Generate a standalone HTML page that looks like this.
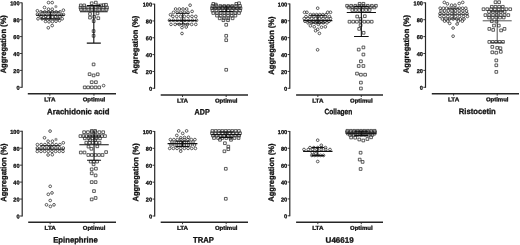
<!DOCTYPE html>
<html><head><meta charset="utf-8"><style>
html,body{margin:0;padding:0;background:#fff;}
body{width:520px;height:245px;overflow:hidden;}
svg{display:block;filter:grayscale(1) blur(0.3px);}
text{font-family:"Liberation Sans", sans-serif;font-weight:bold;fill:#111;stroke:#111;stroke-width:0.3px;text-rendering:geometricPrecision;}
.tl{font-size:5.6px;text-anchor:end;}
.yt{font-size:7.8px;text-anchor:middle;}
.xl{font-size:5.5px;text-anchor:middle;}
.ti{font-size:7.9px;text-anchor:middle;}
</style></head><body>
<svg width="520" height="245" viewBox="0 0 520 245">
<path d="M22.1 2.4V87.8" stroke="#262626" stroke-width="1.2" fill="none"/>
<text transform="translate(19.5 5.3) rotate(0.05)" class="tl">100</text>
<text transform="translate(19.5 22.2) rotate(0.05)" class="tl">80</text>
<text transform="translate(19.5 39.1) rotate(0.05)" class="tl">60</text>
<text transform="translate(19.5 56) rotate(0.05)" class="tl">40</text>
<text transform="translate(19.5 72.9) rotate(0.05)" class="tl">20</text>
<text transform="translate(19.5 89.8) rotate(0.05)" class="tl">0</text>
<path d="M19.9 2.8H22.1M19.9 19.7H22.1M19.9 36.6H22.1M19.9 53.5H22.1M19.9 70.4H22.1M19.9 87.3H22.1" stroke="#262626" stroke-width="0.9" fill="none"/>
<text transform="translate(6 44.25) rotate(-89.95)" class="yt" textLength="58.2" lengthAdjust="spacingAndGlyphs">Aggregation (%)</text>
<path d="M27.8 93.7H116" stroke="#262626" stroke-width="1.4" fill="none"/>
<path d="M49.85 93.7v2M93.95 93.7v2" stroke="#262626" stroke-width="0.9" fill="none"/>
<text transform="translate(49.85 101.2) rotate(0.05)" class="xl" textLength="11.2" lengthAdjust="spacingAndGlyphs">LTA</text>
<text transform="translate(93.95 101.2) rotate(0.05)" class="xl" textLength="22.6" lengthAdjust="spacingAndGlyphs">Optimul</text>
<text transform="translate(78.3 114.3) rotate(0.05)" class="ti" textLength="62.4" lengthAdjust="spacingAndGlyphs">Arachidonic acid</text>
<path d="M154.6 3.7V88.8" stroke="#262626" stroke-width="1.2" fill="none"/>
<text transform="translate(152 6.6) rotate(0.05)" class="tl">100</text>
<text transform="translate(152 23.44) rotate(0.05)" class="tl">80</text>
<text transform="translate(152 40.28) rotate(0.05)" class="tl">60</text>
<text transform="translate(152 57.12) rotate(0.05)" class="tl">40</text>
<text transform="translate(152 73.96) rotate(0.05)" class="tl">20</text>
<text transform="translate(152 90.8) rotate(0.05)" class="tl">0</text>
<path d="M152.4 4.1H154.6M152.4 20.94H154.6M152.4 37.78H154.6M152.4 54.62H154.6M152.4 71.46H154.6M152.4 88.3H154.6" stroke="#262626" stroke-width="0.9" fill="none"/>
<text transform="translate(137.65 44.85) rotate(-89.95)" class="yt" textLength="58.2" lengthAdjust="spacingAndGlyphs">Aggregation (%)</text>
<path d="M160.7 95H248" stroke="#262626" stroke-width="1.4" fill="none"/>
<path d="M182.52 95v2M226.18 95v2" stroke="#262626" stroke-width="0.9" fill="none"/>
<text transform="translate(182.52 102.5) rotate(0.05)" class="xl" textLength="11.2" lengthAdjust="spacingAndGlyphs">LTA</text>
<text transform="translate(226.18 102.5) rotate(0.05)" class="xl" textLength="22.6" lengthAdjust="spacingAndGlyphs">Optimul</text>
<text transform="translate(202.15 114.5) rotate(0.05)" class="ti" textLength="15.1" lengthAdjust="spacingAndGlyphs">ADP</text>
<path d="M289.8 3.5V88.8" stroke="#262626" stroke-width="1.2" fill="none"/>
<text transform="translate(287.2 6.4) rotate(0.05)" class="tl">100</text>
<text transform="translate(287.2 23.28) rotate(0.05)" class="tl">80</text>
<text transform="translate(287.2 40.16) rotate(0.05)" class="tl">60</text>
<text transform="translate(287.2 57.04) rotate(0.05)" class="tl">40</text>
<text transform="translate(287.2 73.92) rotate(0.05)" class="tl">20</text>
<text transform="translate(287.2 90.8) rotate(0.05)" class="tl">0</text>
<path d="M287.6 3.9H289.8M287.6 20.78H289.8M287.6 37.66H289.8M287.6 54.54H289.8M287.6 71.42H289.8M287.6 88.3H289.8" stroke="#262626" stroke-width="0.9" fill="none"/>
<text transform="translate(274.1 45.55) rotate(-89.95)" class="yt" textLength="58.2" lengthAdjust="spacingAndGlyphs">Aggregation (%)</text>
<path d="M296.1 95H383" stroke="#262626" stroke-width="1.4" fill="none"/>
<path d="M317.83 95v2M361.27 95v2" stroke="#262626" stroke-width="0.9" fill="none"/>
<text transform="translate(317.83 102.5) rotate(0.05)" class="xl" textLength="11.2" lengthAdjust="spacingAndGlyphs">LTA</text>
<text transform="translate(361.27 102.5) rotate(0.05)" class="xl" textLength="22.6" lengthAdjust="spacingAndGlyphs">Optimul</text>
<text transform="translate(338.35 114.3) rotate(0.05)" class="ti" textLength="27.9" lengthAdjust="spacingAndGlyphs">Collagen</text>
<path d="M425.5 2.4V87.8" stroke="#262626" stroke-width="1.2" fill="none"/>
<text transform="translate(422.9 5.3) rotate(0.05)" class="tl">100</text>
<text transform="translate(422.9 22.2) rotate(0.05)" class="tl">80</text>
<text transform="translate(422.9 39.1) rotate(0.05)" class="tl">60</text>
<text transform="translate(422.9 56) rotate(0.05)" class="tl">40</text>
<text transform="translate(422.9 72.9) rotate(0.05)" class="tl">20</text>
<text transform="translate(422.9 89.8) rotate(0.05)" class="tl">0</text>
<path d="M423.3 2.8H425.5M423.3 19.7H425.5M423.3 36.6H425.5M423.3 53.5H425.5M423.3 70.4H425.5M423.3 87.3H425.5" stroke="#262626" stroke-width="0.9" fill="none"/>
<text transform="translate(408.9 44.05) rotate(-89.95)" class="yt" textLength="58.2" lengthAdjust="spacingAndGlyphs">Aggregation (%)</text>
<path d="M431.8 93.7H519" stroke="#262626" stroke-width="1.4" fill="none"/>
<path d="M453.6 93.7v2M497.2 93.7v2" stroke="#262626" stroke-width="0.9" fill="none"/>
<text transform="translate(453.6 101.2) rotate(0.05)" class="xl" textLength="11.2" lengthAdjust="spacingAndGlyphs">LTA</text>
<text transform="translate(497.2 101.2) rotate(0.05)" class="xl" textLength="22.6" lengthAdjust="spacingAndGlyphs">Optimul</text>
<text transform="translate(477.25 114.1) rotate(0.05)" class="ti" textLength="37.1" lengthAdjust="spacingAndGlyphs">Ristocetin</text>
<path d="M22.2 130.85V216.5" stroke="#262626" stroke-width="1.2" fill="none"/>
<text transform="translate(19.6 133.75) rotate(0.05)" class="tl">100</text>
<text transform="translate(19.6 150.7) rotate(0.05)" class="tl">80</text>
<text transform="translate(19.6 167.65) rotate(0.05)" class="tl">60</text>
<text transform="translate(19.6 184.6) rotate(0.05)" class="tl">40</text>
<text transform="translate(19.6 201.55) rotate(0.05)" class="tl">20</text>
<text transform="translate(19.6 218.5) rotate(0.05)" class="tl">0</text>
<path d="M20 131.25H22.2M20 148.2H22.2M20 165.15H22.2M20 182.1H22.2M20 199.05H22.2M20 216H22.2" stroke="#262626" stroke-width="0.9" fill="none"/>
<text transform="translate(6.2 172.65) rotate(-89.95)" class="yt" textLength="58.2" lengthAdjust="spacingAndGlyphs">Aggregation (%)</text>
<path d="M28.2 222.2H116" stroke="#262626" stroke-width="1.4" fill="none"/>
<path d="M50.15 222.2v2M94.05 222.2v2" stroke="#262626" stroke-width="0.9" fill="none"/>
<text transform="translate(50.15 229.7) rotate(0.05)" class="xl" textLength="11.2" lengthAdjust="spacingAndGlyphs">LTA</text>
<text transform="translate(94.05 229.7) rotate(0.05)" class="xl" textLength="22.6" lengthAdjust="spacingAndGlyphs">Optimul</text>
<text transform="translate(75.45 242.5) rotate(0.05)" class="ti" textLength="44.5" lengthAdjust="spacingAndGlyphs">Epinephrine</text>
<path d="M154.7 131V216.5" stroke="#262626" stroke-width="1.2" fill="none"/>
<text transform="translate(152.1 133.9) rotate(0.05)" class="tl">100</text>
<text transform="translate(152.1 150.82) rotate(0.05)" class="tl">80</text>
<text transform="translate(152.1 167.74) rotate(0.05)" class="tl">60</text>
<text transform="translate(152.1 184.66) rotate(0.05)" class="tl">40</text>
<text transform="translate(152.1 201.58) rotate(0.05)" class="tl">20</text>
<text transform="translate(152.1 218.5) rotate(0.05)" class="tl">0</text>
<path d="M152.5 131.4H154.7M152.5 148.32H154.7M152.5 165.24H154.7M152.5 182.16H154.7M152.5 199.08H154.7M152.5 216H154.7" stroke="#262626" stroke-width="0.9" fill="none"/>
<text transform="translate(138.25 172.45) rotate(-89.95)" class="yt" textLength="58.2" lengthAdjust="spacingAndGlyphs">Aggregation (%)</text>
<path d="M160.7 222.2H248" stroke="#262626" stroke-width="1.4" fill="none"/>
<path d="M182.52 222.2v2M226.18 222.2v2" stroke="#262626" stroke-width="0.9" fill="none"/>
<text transform="translate(182.52 229.7) rotate(0.05)" class="xl" textLength="11.2" lengthAdjust="spacingAndGlyphs">LTA</text>
<text transform="translate(226.18 229.7) rotate(0.05)" class="xl" textLength="22.6" lengthAdjust="spacingAndGlyphs">Optimul</text>
<text transform="translate(203.5 242.6) rotate(0.05)" class="ti" textLength="20.8" lengthAdjust="spacingAndGlyphs">TRAP</text>
<path d="M289.8 131V216.3" stroke="#262626" stroke-width="1.2" fill="none"/>
<text transform="translate(287.2 133.9) rotate(0.05)" class="tl">100</text>
<text transform="translate(287.2 150.78) rotate(0.05)" class="tl">80</text>
<text transform="translate(287.2 167.66) rotate(0.05)" class="tl">60</text>
<text transform="translate(287.2 184.54) rotate(0.05)" class="tl">40</text>
<text transform="translate(287.2 201.42) rotate(0.05)" class="tl">20</text>
<text transform="translate(287.2 218.3) rotate(0.05)" class="tl">0</text>
<path d="M287.6 131.4H289.8M287.6 148.28H289.8M287.6 165.16H289.8M287.6 182.04H289.8M287.6 198.92H289.8M287.6 215.8H289.8" stroke="#262626" stroke-width="0.9" fill="none"/>
<text transform="translate(273.9 172.65) rotate(-89.95)" class="yt" textLength="58.2" lengthAdjust="spacingAndGlyphs">Aggregation (%)</text>
<path d="M296.1 222.2H383" stroke="#262626" stroke-width="1.4" fill="none"/>
<path d="M317.83 222.2v2M361.27 222.2v2" stroke="#262626" stroke-width="0.9" fill="none"/>
<text transform="translate(317.83 229.7) rotate(0.05)" class="xl" textLength="11.2" lengthAdjust="spacingAndGlyphs">LTA</text>
<text transform="translate(361.27 229.7) rotate(0.05)" class="xl" textLength="22.6" lengthAdjust="spacingAndGlyphs">Optimul</text>
<text transform="translate(339.65 242.7) rotate(0.05)" class="ti" textLength="28.1" lengthAdjust="spacingAndGlyphs">U46619</text>
<path d="M54.3 6.6a1.6 1.6 0 1 0 3.2 0a1.6 1.6 0 1 0 -3.2 0M54.4 139.4a1.6 1.6 0 1 0 3.2 0a1.6 1.6 0 1 0 -3.2 0" fill="#9a9a9a"/>
<path d="M47.15 2.6a1.35 1.35 0 1 0 2.7 0a1.35 1.35 0 1 0 -2.7 0M50.85 2.6a1.35 1.35 0 1 0 2.7 0a1.35 1.35 0 1 0 -2.7 0M43.15 7.5a1.35 1.35 0 1 0 2.7 0a1.35 1.35 0 1 0 -2.7 0M47.15 9.2a1.35 1.35 0 1 0 2.7 0a1.35 1.35 0 1 0 -2.7 0M50.85 9.2a1.35 1.35 0 1 0 2.7 0a1.35 1.35 0 1 0 -2.7 0M36.05 10.8a1.35 1.35 0 1 0 2.7 0a1.35 1.35 0 1 0 -2.7 0M62.05 10.2a1.35 1.35 0 1 0 2.7 0a1.35 1.35 0 1 0 -2.7 0M62.05 14.5a1.35 1.35 0 1 0 2.7 0a1.35 1.35 0 1 0 -2.7 0M36.05 14.3a1.35 1.35 0 1 0 2.7 0a1.35 1.35 0 1 0 -2.7 0M50.85 25.6a1.35 1.35 0 1 0 2.7 0a1.35 1.35 0 1 0 -2.7 0M46.95 27.8a1.35 1.35 0 1 0 2.7 0a1.35 1.35 0 1 0 -2.7 0M44.15 21.4a1.35 1.35 0 1 0 2.7 0a1.35 1.35 0 1 0 -2.7 0M47.65 21.8a1.35 1.35 0 1 0 2.7 0a1.35 1.35 0 1 0 -2.7 0M51.15 21.6a1.35 1.35 0 1 0 2.7 0a1.35 1.35 0 1 0 -2.7 0M54.65 21.2a1.35 1.35 0 1 0 2.7 0a1.35 1.35 0 1 0 -2.7 0M58.15 20.6a1.35 1.35 0 1 0 2.7 0a1.35 1.35 0 1 0 -2.7 0M39.65 11.9a1.35 1.35 0 1 0 2.7 0a1.35 1.35 0 1 0 -2.7 0M43.45 11.9a1.35 1.35 0 1 0 2.7 0a1.35 1.35 0 1 0 -2.7 0M47.25 11.9a1.35 1.35 0 1 0 2.7 0a1.35 1.35 0 1 0 -2.7 0M51.05 11.9a1.35 1.35 0 1 0 2.7 0a1.35 1.35 0 1 0 -2.7 0M54.85 11.9a1.35 1.35 0 1 0 2.7 0a1.35 1.35 0 1 0 -2.7 0M58.65 11.9a1.35 1.35 0 1 0 2.7 0a1.35 1.35 0 1 0 -2.7 0M38.15 15a1.35 1.35 0 1 0 2.7 0a1.35 1.35 0 1 0 -2.7 0M41.82 15a1.35 1.35 0 1 0 2.7 0a1.35 1.35 0 1 0 -2.7 0M45.48 15a1.35 1.35 0 1 0 2.7 0a1.35 1.35 0 1 0 -2.7 0M49.15 15a1.35 1.35 0 1 0 2.7 0a1.35 1.35 0 1 0 -2.7 0M52.82 15a1.35 1.35 0 1 0 2.7 0a1.35 1.35 0 1 0 -2.7 0M56.48 15a1.35 1.35 0 1 0 2.7 0a1.35 1.35 0 1 0 -2.7 0M60.15 15a1.35 1.35 0 1 0 2.7 0a1.35 1.35 0 1 0 -2.7 0M39.65 16.8a1.35 1.35 0 1 0 2.7 0a1.35 1.35 0 1 0 -2.7 0M44.4 16.8a1.35 1.35 0 1 0 2.7 0a1.35 1.35 0 1 0 -2.7 0M49.15 16.8a1.35 1.35 0 1 0 2.7 0a1.35 1.35 0 1 0 -2.7 0M53.9 16.8a1.35 1.35 0 1 0 2.7 0a1.35 1.35 0 1 0 -2.7 0M58.65 16.8a1.35 1.35 0 1 0 2.7 0a1.35 1.35 0 1 0 -2.7 0M36.65 18.8a1.35 1.35 0 1 0 2.7 0a1.35 1.35 0 1 0 -2.7 0M40.68 18.8a1.35 1.35 0 1 0 2.7 0a1.35 1.35 0 1 0 -2.7 0M44.72 18.8a1.35 1.35 0 1 0 2.7 0a1.35 1.35 0 1 0 -2.7 0M48.75 18.8a1.35 1.35 0 1 0 2.7 0a1.35 1.35 0 1 0 -2.7 0M52.78 18.8a1.35 1.35 0 1 0 2.7 0a1.35 1.35 0 1 0 -2.7 0M56.82 18.8a1.35 1.35 0 1 0 2.7 0a1.35 1.35 0 1 0 -2.7 0M60.85 18.8a1.35 1.35 0 1 0 2.7 0a1.35 1.35 0 1 0 -2.7 0M188.75 5.2a1.35 1.35 0 1 0 2.7 0a1.35 1.35 0 1 0 -2.7 0M190.75 11.4a1.35 1.35 0 1 0 2.7 0a1.35 1.35 0 1 0 -2.7 0M169.15 14.7a1.35 1.35 0 1 0 2.7 0a1.35 1.35 0 1 0 -2.7 0M184.85 27a1.35 1.35 0 1 0 2.7 0a1.35 1.35 0 1 0 -2.7 0M180.65 27.6a1.35 1.35 0 1 0 2.7 0a1.35 1.35 0 1 0 -2.7 0M180.65 33.5a1.35 1.35 0 1 0 2.7 0a1.35 1.35 0 1 0 -2.7 0M174.25 9a1.35 1.35 0 1 0 2.7 0a1.35 1.35 0 1 0 -2.7 0M177.95 9a1.35 1.35 0 1 0 2.7 0a1.35 1.35 0 1 0 -2.7 0M181.65 9a1.35 1.35 0 1 0 2.7 0a1.35 1.35 0 1 0 -2.7 0M185.35 9a1.35 1.35 0 1 0 2.7 0a1.35 1.35 0 1 0 -2.7 0M172.15 12.4a1.35 1.35 0 1 0 2.7 0a1.35 1.35 0 1 0 -2.7 0M175.78 12.4a1.35 1.35 0 1 0 2.7 0a1.35 1.35 0 1 0 -2.7 0M179.4 12.4a1.35 1.35 0 1 0 2.7 0a1.35 1.35 0 1 0 -2.7 0M183.03 12.4a1.35 1.35 0 1 0 2.7 0a1.35 1.35 0 1 0 -2.7 0M186.65 12.4a1.35 1.35 0 1 0 2.7 0a1.35 1.35 0 1 0 -2.7 0M171.55 16.4a1.35 1.35 0 1 0 2.7 0a1.35 1.35 0 1 0 -2.7 0M175.37 16.4a1.35 1.35 0 1 0 2.7 0a1.35 1.35 0 1 0 -2.7 0M179.18 16.4a1.35 1.35 0 1 0 2.7 0a1.35 1.35 0 1 0 -2.7 0M183 16.4a1.35 1.35 0 1 0 2.7 0a1.35 1.35 0 1 0 -2.7 0M186.82 16.4a1.35 1.35 0 1 0 2.7 0a1.35 1.35 0 1 0 -2.7 0M190.63 16.4a1.35 1.35 0 1 0 2.7 0a1.35 1.35 0 1 0 -2.7 0M194.45 16.4a1.35 1.35 0 1 0 2.7 0a1.35 1.35 0 1 0 -2.7 0M168.15 20.3a1.35 1.35 0 1 0 2.7 0a1.35 1.35 0 1 0 -2.7 0M172.01 20.3a1.35 1.35 0 1 0 2.7 0a1.35 1.35 0 1 0 -2.7 0M175.86 20.3a1.35 1.35 0 1 0 2.7 0a1.35 1.35 0 1 0 -2.7 0M179.72 20.3a1.35 1.35 0 1 0 2.7 0a1.35 1.35 0 1 0 -2.7 0M183.58 20.3a1.35 1.35 0 1 0 2.7 0a1.35 1.35 0 1 0 -2.7 0M187.44 20.3a1.35 1.35 0 1 0 2.7 0a1.35 1.35 0 1 0 -2.7 0M191.29 20.3a1.35 1.35 0 1 0 2.7 0a1.35 1.35 0 1 0 -2.7 0M195.15 20.3a1.35 1.35 0 1 0 2.7 0a1.35 1.35 0 1 0 -2.7 0M169.65 24.4a1.35 1.35 0 1 0 2.7 0a1.35 1.35 0 1 0 -2.7 0M173.78 24.4a1.35 1.35 0 1 0 2.7 0a1.35 1.35 0 1 0 -2.7 0M177.92 24.4a1.35 1.35 0 1 0 2.7 0a1.35 1.35 0 1 0 -2.7 0M182.05 24.4a1.35 1.35 0 1 0 2.7 0a1.35 1.35 0 1 0 -2.7 0M186.18 24.4a1.35 1.35 0 1 0 2.7 0a1.35 1.35 0 1 0 -2.7 0M190.32 24.4a1.35 1.35 0 1 0 2.7 0a1.35 1.35 0 1 0 -2.7 0M194.45 24.4a1.35 1.35 0 1 0 2.7 0a1.35 1.35 0 1 0 -2.7 0M316.35 8.2a1.35 1.35 0 1 0 2.7 0a1.35 1.35 0 1 0 -2.7 0M303.15 12.3a1.35 1.35 0 1 0 2.7 0a1.35 1.35 0 1 0 -2.7 0M305.55 12.3a1.35 1.35 0 1 0 2.7 0a1.35 1.35 0 1 0 -2.7 0M326.35 12.3a1.35 1.35 0 1 0 2.7 0a1.35 1.35 0 1 0 -2.7 0M329.15 12.3a1.35 1.35 0 1 0 2.7 0a1.35 1.35 0 1 0 -2.7 0M317.05 24.4a1.35 1.35 0 1 0 2.7 0a1.35 1.35 0 1 0 -2.7 0M309.05 25.8a1.35 1.35 0 1 0 2.7 0a1.35 1.35 0 1 0 -2.7 0M312.85 26.8a1.35 1.35 0 1 0 2.7 0a1.35 1.35 0 1 0 -2.7 0M320.15 27.2a1.35 1.35 0 1 0 2.7 0a1.35 1.35 0 1 0 -2.7 0M323.95 26.8a1.35 1.35 0 1 0 2.7 0a1.35 1.35 0 1 0 -2.7 0M316.35 29.3a1.35 1.35 0 1 0 2.7 0a1.35 1.35 0 1 0 -2.7 0M314.25 30.7a1.35 1.35 0 1 0 2.7 0a1.35 1.35 0 1 0 -2.7 0M318.05 33.4a1.35 1.35 0 1 0 2.7 0a1.35 1.35 0 1 0 -2.7 0M316.25 49.8a1.35 1.35 0 1 0 2.7 0a1.35 1.35 0 1 0 -2.7 0M309.05 14.6a1.35 1.35 0 1 0 2.7 0a1.35 1.35 0 1 0 -2.7 0M312.17 14.6a1.35 1.35 0 1 0 2.7 0a1.35 1.35 0 1 0 -2.7 0M315.29 14.6a1.35 1.35 0 1 0 2.7 0a1.35 1.35 0 1 0 -2.7 0M318.41 14.6a1.35 1.35 0 1 0 2.7 0a1.35 1.35 0 1 0 -2.7 0M321.53 14.6a1.35 1.35 0 1 0 2.7 0a1.35 1.35 0 1 0 -2.7 0M324.65 14.6a1.35 1.35 0 1 0 2.7 0a1.35 1.35 0 1 0 -2.7 0M304.65 16.6a1.35 1.35 0 1 0 2.7 0a1.35 1.35 0 1 0 -2.7 0M308.57 16.6a1.35 1.35 0 1 0 2.7 0a1.35 1.35 0 1 0 -2.7 0M312.48 16.6a1.35 1.35 0 1 0 2.7 0a1.35 1.35 0 1 0 -2.7 0M316.4 16.6a1.35 1.35 0 1 0 2.7 0a1.35 1.35 0 1 0 -2.7 0M320.32 16.6a1.35 1.35 0 1 0 2.7 0a1.35 1.35 0 1 0 -2.7 0M324.23 16.6a1.35 1.35 0 1 0 2.7 0a1.35 1.35 0 1 0 -2.7 0M328.15 16.6a1.35 1.35 0 1 0 2.7 0a1.35 1.35 0 1 0 -2.7 0M302.85 18.5a1.35 1.35 0 1 0 2.7 0a1.35 1.35 0 1 0 -2.7 0M306.61 18.5a1.35 1.35 0 1 0 2.7 0a1.35 1.35 0 1 0 -2.7 0M310.36 18.5a1.35 1.35 0 1 0 2.7 0a1.35 1.35 0 1 0 -2.7 0M314.12 18.5a1.35 1.35 0 1 0 2.7 0a1.35 1.35 0 1 0 -2.7 0M317.88 18.5a1.35 1.35 0 1 0 2.7 0a1.35 1.35 0 1 0 -2.7 0M321.64 18.5a1.35 1.35 0 1 0 2.7 0a1.35 1.35 0 1 0 -2.7 0M325.39 18.5a1.35 1.35 0 1 0 2.7 0a1.35 1.35 0 1 0 -2.7 0M329.15 18.5a1.35 1.35 0 1 0 2.7 0a1.35 1.35 0 1 0 -2.7 0M303.65 21.3a1.35 1.35 0 1 0 2.7 0a1.35 1.35 0 1 0 -2.7 0M307.65 21.3a1.35 1.35 0 1 0 2.7 0a1.35 1.35 0 1 0 -2.7 0M311.65 21.3a1.35 1.35 0 1 0 2.7 0a1.35 1.35 0 1 0 -2.7 0M315.65 21.3a1.35 1.35 0 1 0 2.7 0a1.35 1.35 0 1 0 -2.7 0M319.65 21.3a1.35 1.35 0 1 0 2.7 0a1.35 1.35 0 1 0 -2.7 0M323.65 21.3a1.35 1.35 0 1 0 2.7 0a1.35 1.35 0 1 0 -2.7 0M327.65 21.3a1.35 1.35 0 1 0 2.7 0a1.35 1.35 0 1 0 -2.7 0M306.65 22.8a1.35 1.35 0 1 0 2.7 0a1.35 1.35 0 1 0 -2.7 0M310.45 22.8a1.35 1.35 0 1 0 2.7 0a1.35 1.35 0 1 0 -2.7 0M314.25 22.8a1.35 1.35 0 1 0 2.7 0a1.35 1.35 0 1 0 -2.7 0M318.05 22.8a1.35 1.35 0 1 0 2.7 0a1.35 1.35 0 1 0 -2.7 0M321.85 22.8a1.35 1.35 0 1 0 2.7 0a1.35 1.35 0 1 0 -2.7 0M325.65 22.8a1.35 1.35 0 1 0 2.7 0a1.35 1.35 0 1 0 -2.7 0M442.95 2.4a1.35 1.35 0 1 0 2.7 0a1.35 1.35 0 1 0 -2.7 0M446.05 3.8a1.35 1.35 0 1 0 2.7 0a1.35 1.35 0 1 0 -2.7 0M457.85 3.5a1.35 1.35 0 1 0 2.7 0a1.35 1.35 0 1 0 -2.7 0M461.35 2.4a1.35 1.35 0 1 0 2.7 0a1.35 1.35 0 1 0 -2.7 0M450.25 5.2a1.35 1.35 0 1 0 2.7 0a1.35 1.35 0 1 0 -2.7 0M453.65 5.2a1.35 1.35 0 1 0 2.7 0a1.35 1.35 0 1 0 -2.7 0M443.25 21.1a1.35 1.35 0 1 0 2.7 0a1.35 1.35 0 1 0 -2.7 0M446.45 21.1a1.35 1.35 0 1 0 2.7 0a1.35 1.35 0 1 0 -2.7 0M456.95 21.1a1.35 1.35 0 1 0 2.7 0a1.35 1.35 0 1 0 -2.7 0M460.95 21.1a1.35 1.35 0 1 0 2.7 0a1.35 1.35 0 1 0 -2.7 0M448.35 23.4a1.35 1.35 0 1 0 2.7 0a1.35 1.35 0 1 0 -2.7 0M455.75 24a1.35 1.35 0 1 0 2.7 0a1.35 1.35 0 1 0 -2.7 0M451.75 28a1.35 1.35 0 1 0 2.7 0a1.35 1.35 0 1 0 -2.7 0M451.75 36.2a1.35 1.35 0 1 0 2.7 0a1.35 1.35 0 1 0 -2.7 0M438.85 8.2a1.35 1.35 0 1 0 2.7 0a1.35 1.35 0 1 0 -2.7 0M442.05 8.2a1.35 1.35 0 1 0 2.7 0a1.35 1.35 0 1 0 -2.7 0M445.25 8.2a1.35 1.35 0 1 0 2.7 0a1.35 1.35 0 1 0 -2.7 0M448.45 8.2a1.35 1.35 0 1 0 2.7 0a1.35 1.35 0 1 0 -2.7 0M451.65 8.2a1.35 1.35 0 1 0 2.7 0a1.35 1.35 0 1 0 -2.7 0M454.85 8.2a1.35 1.35 0 1 0 2.7 0a1.35 1.35 0 1 0 -2.7 0M458.05 8.2a1.35 1.35 0 1 0 2.7 0a1.35 1.35 0 1 0 -2.7 0M461.25 8.2a1.35 1.35 0 1 0 2.7 0a1.35 1.35 0 1 0 -2.7 0M464.45 8.2a1.35 1.35 0 1 0 2.7 0a1.35 1.35 0 1 0 -2.7 0M439.65 10.9a1.35 1.35 0 1 0 2.7 0a1.35 1.35 0 1 0 -2.7 0M443.29 10.9a1.35 1.35 0 1 0 2.7 0a1.35 1.35 0 1 0 -2.7 0M446.94 10.9a1.35 1.35 0 1 0 2.7 0a1.35 1.35 0 1 0 -2.7 0M450.58 10.9a1.35 1.35 0 1 0 2.7 0a1.35 1.35 0 1 0 -2.7 0M454.22 10.9a1.35 1.35 0 1 0 2.7 0a1.35 1.35 0 1 0 -2.7 0M457.86 10.9a1.35 1.35 0 1 0 2.7 0a1.35 1.35 0 1 0 -2.7 0M461.51 10.9a1.35 1.35 0 1 0 2.7 0a1.35 1.35 0 1 0 -2.7 0M465.15 10.9a1.35 1.35 0 1 0 2.7 0a1.35 1.35 0 1 0 -2.7 0M438.65 13.6a1.35 1.35 0 1 0 2.7 0a1.35 1.35 0 1 0 -2.7 0M442.51 13.6a1.35 1.35 0 1 0 2.7 0a1.35 1.35 0 1 0 -2.7 0M446.36 13.6a1.35 1.35 0 1 0 2.7 0a1.35 1.35 0 1 0 -2.7 0M450.22 13.6a1.35 1.35 0 1 0 2.7 0a1.35 1.35 0 1 0 -2.7 0M454.08 13.6a1.35 1.35 0 1 0 2.7 0a1.35 1.35 0 1 0 -2.7 0M457.94 13.6a1.35 1.35 0 1 0 2.7 0a1.35 1.35 0 1 0 -2.7 0M461.79 13.6a1.35 1.35 0 1 0 2.7 0a1.35 1.35 0 1 0 -2.7 0M465.65 13.6a1.35 1.35 0 1 0 2.7 0a1.35 1.35 0 1 0 -2.7 0M438.65 16.4a1.35 1.35 0 1 0 2.7 0a1.35 1.35 0 1 0 -2.7 0M442.56 16.4a1.35 1.35 0 1 0 2.7 0a1.35 1.35 0 1 0 -2.7 0M446.48 16.4a1.35 1.35 0 1 0 2.7 0a1.35 1.35 0 1 0 -2.7 0M450.39 16.4a1.35 1.35 0 1 0 2.7 0a1.35 1.35 0 1 0 -2.7 0M454.31 16.4a1.35 1.35 0 1 0 2.7 0a1.35 1.35 0 1 0 -2.7 0M458.22 16.4a1.35 1.35 0 1 0 2.7 0a1.35 1.35 0 1 0 -2.7 0M462.14 16.4a1.35 1.35 0 1 0 2.7 0a1.35 1.35 0 1 0 -2.7 0M466.05 16.4a1.35 1.35 0 1 0 2.7 0a1.35 1.35 0 1 0 -2.7 0M440.95 19a1.35 1.35 0 1 0 2.7 0a1.35 1.35 0 1 0 -2.7 0M444.57 19a1.35 1.35 0 1 0 2.7 0a1.35 1.35 0 1 0 -2.7 0M448.18 19a1.35 1.35 0 1 0 2.7 0a1.35 1.35 0 1 0 -2.7 0M451.8 19a1.35 1.35 0 1 0 2.7 0a1.35 1.35 0 1 0 -2.7 0M455.42 19a1.35 1.35 0 1 0 2.7 0a1.35 1.35 0 1 0 -2.7 0M459.03 19a1.35 1.35 0 1 0 2.7 0a1.35 1.35 0 1 0 -2.7 0M462.65 19a1.35 1.35 0 1 0 2.7 0a1.35 1.35 0 1 0 -2.7 0M48.75 131.1a1.35 1.35 0 1 0 2.7 0a1.35 1.35 0 1 0 -2.7 0M43.15 137.8a1.35 1.35 0 1 0 2.7 0a1.35 1.35 0 1 0 -2.7 0M46.75 141.2a1.35 1.35 0 1 0 2.7 0a1.35 1.35 0 1 0 -2.7 0M51.05 141.2a1.35 1.35 0 1 0 2.7 0a1.35 1.35 0 1 0 -2.7 0M61.95 142.8a1.35 1.35 0 1 0 2.7 0a1.35 1.35 0 1 0 -2.7 0M46.75 155a1.35 1.35 0 1 0 2.7 0a1.35 1.35 0 1 0 -2.7 0M50.95 154.7a1.35 1.35 0 1 0 2.7 0a1.35 1.35 0 1 0 -2.7 0M48.85 186.3a1.35 1.35 0 1 0 2.7 0a1.35 1.35 0 1 0 -2.7 0M46.95 194.3a1.35 1.35 0 1 0 2.7 0a1.35 1.35 0 1 0 -2.7 0M50.65 192.9a1.35 1.35 0 1 0 2.7 0a1.35 1.35 0 1 0 -2.7 0M48.85 200.5a1.35 1.35 0 1 0 2.7 0a1.35 1.35 0 1 0 -2.7 0M45.15 204.8a1.35 1.35 0 1 0 2.7 0a1.35 1.35 0 1 0 -2.7 0M49.05 206.4a1.35 1.35 0 1 0 2.7 0a1.35 1.35 0 1 0 -2.7 0M52.65 204.8a1.35 1.35 0 1 0 2.7 0a1.35 1.35 0 1 0 -2.7 0M36.05 144.6a1.35 1.35 0 1 0 2.7 0a1.35 1.35 0 1 0 -2.7 0M39.8 144.6a1.35 1.35 0 1 0 2.7 0a1.35 1.35 0 1 0 -2.7 0M43.55 144.6a1.35 1.35 0 1 0 2.7 0a1.35 1.35 0 1 0 -2.7 0M47.3 144.6a1.35 1.35 0 1 0 2.7 0a1.35 1.35 0 1 0 -2.7 0M51.05 144.6a1.35 1.35 0 1 0 2.7 0a1.35 1.35 0 1 0 -2.7 0M54.8 144.6a1.35 1.35 0 1 0 2.7 0a1.35 1.35 0 1 0 -2.7 0M58.55 144.6a1.35 1.35 0 1 0 2.7 0a1.35 1.35 0 1 0 -2.7 0M35.95 148a1.35 1.35 0 1 0 2.7 0a1.35 1.35 0 1 0 -2.7 0M39.66 148a1.35 1.35 0 1 0 2.7 0a1.35 1.35 0 1 0 -2.7 0M43.38 148a1.35 1.35 0 1 0 2.7 0a1.35 1.35 0 1 0 -2.7 0M47.09 148a1.35 1.35 0 1 0 2.7 0a1.35 1.35 0 1 0 -2.7 0M50.81 148a1.35 1.35 0 1 0 2.7 0a1.35 1.35 0 1 0 -2.7 0M54.52 148a1.35 1.35 0 1 0 2.7 0a1.35 1.35 0 1 0 -2.7 0M58.24 148a1.35 1.35 0 1 0 2.7 0a1.35 1.35 0 1 0 -2.7 0M61.95 148a1.35 1.35 0 1 0 2.7 0a1.35 1.35 0 1 0 -2.7 0M35.95 151.4a1.35 1.35 0 1 0 2.7 0a1.35 1.35 0 1 0 -2.7 0M39.62 151.4a1.35 1.35 0 1 0 2.7 0a1.35 1.35 0 1 0 -2.7 0M43.29 151.4a1.35 1.35 0 1 0 2.7 0a1.35 1.35 0 1 0 -2.7 0M46.96 151.4a1.35 1.35 0 1 0 2.7 0a1.35 1.35 0 1 0 -2.7 0M50.64 151.4a1.35 1.35 0 1 0 2.7 0a1.35 1.35 0 1 0 -2.7 0M54.31 151.4a1.35 1.35 0 1 0 2.7 0a1.35 1.35 0 1 0 -2.7 0M57.98 151.4a1.35 1.35 0 1 0 2.7 0a1.35 1.35 0 1 0 -2.7 0M61.65 151.4a1.35 1.35 0 1 0 2.7 0a1.35 1.35 0 1 0 -2.7 0M177.35 130.9a1.35 1.35 0 1 0 2.7 0a1.35 1.35 0 1 0 -2.7 0M185.25 130.9a1.35 1.35 0 1 0 2.7 0a1.35 1.35 0 1 0 -2.7 0M181.35 133.4a1.35 1.35 0 1 0 2.7 0a1.35 1.35 0 1 0 -2.7 0M175.45 135.4a1.35 1.35 0 1 0 2.7 0a1.35 1.35 0 1 0 -2.7 0M179.35 137.8a1.35 1.35 0 1 0 2.7 0a1.35 1.35 0 1 0 -2.7 0M183.15 137.5a1.35 1.35 0 1 0 2.7 0a1.35 1.35 0 1 0 -2.7 0M187.15 137.3a1.35 1.35 0 1 0 2.7 0a1.35 1.35 0 1 0 -2.7 0M179.35 151.2a1.35 1.35 0 1 0 2.7 0a1.35 1.35 0 1 0 -2.7 0M169.05 139.6a1.35 1.35 0 1 0 2.7 0a1.35 1.35 0 1 0 -2.7 0M172.55 139.6a1.35 1.35 0 1 0 2.7 0a1.35 1.35 0 1 0 -2.7 0M176.05 139.6a1.35 1.35 0 1 0 2.7 0a1.35 1.35 0 1 0 -2.7 0M179.55 139.6a1.35 1.35 0 1 0 2.7 0a1.35 1.35 0 1 0 -2.7 0M183.05 139.6a1.35 1.35 0 1 0 2.7 0a1.35 1.35 0 1 0 -2.7 0M186.55 139.6a1.35 1.35 0 1 0 2.7 0a1.35 1.35 0 1 0 -2.7 0M190.05 139.6a1.35 1.35 0 1 0 2.7 0a1.35 1.35 0 1 0 -2.7 0M193.55 139.6a1.35 1.35 0 1 0 2.7 0a1.35 1.35 0 1 0 -2.7 0M170.65 142a1.35 1.35 0 1 0 2.7 0a1.35 1.35 0 1 0 -2.7 0M174.85 142a1.35 1.35 0 1 0 2.7 0a1.35 1.35 0 1 0 -2.7 0M179.05 142a1.35 1.35 0 1 0 2.7 0a1.35 1.35 0 1 0 -2.7 0M183.25 142a1.35 1.35 0 1 0 2.7 0a1.35 1.35 0 1 0 -2.7 0M187.45 142a1.35 1.35 0 1 0 2.7 0a1.35 1.35 0 1 0 -2.7 0M191.65 142a1.35 1.35 0 1 0 2.7 0a1.35 1.35 0 1 0 -2.7 0M169.65 145a1.35 1.35 0 1 0 2.7 0a1.35 1.35 0 1 0 -2.7 0M173.57 145a1.35 1.35 0 1 0 2.7 0a1.35 1.35 0 1 0 -2.7 0M177.48 145a1.35 1.35 0 1 0 2.7 0a1.35 1.35 0 1 0 -2.7 0M181.4 145a1.35 1.35 0 1 0 2.7 0a1.35 1.35 0 1 0 -2.7 0M185.32 145a1.35 1.35 0 1 0 2.7 0a1.35 1.35 0 1 0 -2.7 0M189.23 145a1.35 1.35 0 1 0 2.7 0a1.35 1.35 0 1 0 -2.7 0M193.15 145a1.35 1.35 0 1 0 2.7 0a1.35 1.35 0 1 0 -2.7 0M168.35 148.4a1.35 1.35 0 1 0 2.7 0a1.35 1.35 0 1 0 -2.7 0M172.02 148.4a1.35 1.35 0 1 0 2.7 0a1.35 1.35 0 1 0 -2.7 0M175.69 148.4a1.35 1.35 0 1 0 2.7 0a1.35 1.35 0 1 0 -2.7 0M179.36 148.4a1.35 1.35 0 1 0 2.7 0a1.35 1.35 0 1 0 -2.7 0M183.04 148.4a1.35 1.35 0 1 0 2.7 0a1.35 1.35 0 1 0 -2.7 0M186.71 148.4a1.35 1.35 0 1 0 2.7 0a1.35 1.35 0 1 0 -2.7 0M190.38 148.4a1.35 1.35 0 1 0 2.7 0a1.35 1.35 0 1 0 -2.7 0M194.05 148.4a1.35 1.35 0 1 0 2.7 0a1.35 1.35 0 1 0 -2.7 0M316.35 140.2a1.35 1.35 0 1 0 2.7 0a1.35 1.35 0 1 0 -2.7 0M319.95 145.3a1.35 1.35 0 1 0 2.7 0a1.35 1.35 0 1 0 -2.7 0M310.95 152.7a1.35 1.35 0 1 0 2.7 0a1.35 1.35 0 1 0 -2.7 0M314.35 153.7a1.35 1.35 0 1 0 2.7 0a1.35 1.35 0 1 0 -2.7 0M316.35 161.5a1.35 1.35 0 1 0 2.7 0a1.35 1.35 0 1 0 -2.7 0M308.65 147.6a1.35 1.35 0 1 0 2.7 0a1.35 1.35 0 1 0 -2.7 0M312.52 147.6a1.35 1.35 0 1 0 2.7 0a1.35 1.35 0 1 0 -2.7 0M316.4 147.6a1.35 1.35 0 1 0 2.7 0a1.35 1.35 0 1 0 -2.7 0M320.27 147.6a1.35 1.35 0 1 0 2.7 0a1.35 1.35 0 1 0 -2.7 0M324.15 147.6a1.35 1.35 0 1 0 2.7 0a1.35 1.35 0 1 0 -2.7 0M302.65 149.5a1.35 1.35 0 1 0 2.7 0a1.35 1.35 0 1 0 -2.7 0M306.98 149.5a1.35 1.35 0 1 0 2.7 0a1.35 1.35 0 1 0 -2.7 0M311.32 149.5a1.35 1.35 0 1 0 2.7 0a1.35 1.35 0 1 0 -2.7 0M315.65 149.5a1.35 1.35 0 1 0 2.7 0a1.35 1.35 0 1 0 -2.7 0M319.98 149.5a1.35 1.35 0 1 0 2.7 0a1.35 1.35 0 1 0 -2.7 0M324.32 149.5a1.35 1.35 0 1 0 2.7 0a1.35 1.35 0 1 0 -2.7 0M328.65 149.5a1.35 1.35 0 1 0 2.7 0a1.35 1.35 0 1 0 -2.7 0M310.45 155.4a1.35 1.35 0 1 0 2.7 0a1.35 1.35 0 1 0 -2.7 0M313.38 155.4a1.35 1.35 0 1 0 2.7 0a1.35 1.35 0 1 0 -2.7 0M316.3 155.4a1.35 1.35 0 1 0 2.7 0a1.35 1.35 0 1 0 -2.7 0M319.22 155.4a1.35 1.35 0 1 0 2.7 0a1.35 1.35 0 1 0 -2.7 0M322.15 155.4a1.35 1.35 0 1 0 2.7 0a1.35 1.35 0 1 0 -2.7 0M102.25 85.6a1.35 1.35 0 1 0 2.7 0a1.35 1.35 0 1 0 -2.7 0" fill="none" stroke="#2a2a2a" stroke-width="0.75"/>
<path d="M90.35 1.95h2.7v2.7h-2.7zM94.45 1.25h2.7v2.7h-2.7zM79.45 4.05h2.7v2.7h-2.7zM82.85 4.05h2.7v2.7h-2.7zM96.95 4.25h2.7v2.7h-2.7zM99.65 4.05h2.7v2.7h-2.7zM102.15 3.75h2.7v2.7h-2.7zM104.65 3.45h2.7v2.7h-2.7zM88.65 12.65h2.7v2.7h-2.7zM96.15 12.05h2.7v2.7h-2.7zM88.65 16.25h2.7v2.7h-2.7zM92.85 15.45h2.7v2.7h-2.7zM96.95 16.85h2.7v2.7h-2.7zM92.35 19.75h2.7v2.7h-2.7zM92.25 29.75h2.7v2.7h-2.7zM92.25 34.45h2.7v2.7h-2.7zM92.25 63.05h2.7v2.7h-2.7zM88.25 72.85h2.7v2.7h-2.7zM92.25 74.05h2.7v2.7h-2.7zM96.35 72.95h2.7v2.7h-2.7zM90.35 80.85h2.7v2.7h-2.7zM94.55 80.85h2.7v2.7h-2.7zM83.35 86h2.7v2.7h-2.7zM86.75 86h2.7v2.7h-2.7zM90.45 86h2.7v2.7h-2.7zM94.15 86h2.7v2.7h-2.7zM97.85 86h2.7v2.7h-2.7zM79.15 6.25h2.7v2.7h-2.7zM82.94 6.25h2.7v2.7h-2.7zM86.72 6.25h2.7v2.7h-2.7zM90.51 6.25h2.7v2.7h-2.7zM94.29 6.25h2.7v2.7h-2.7zM98.08 6.25h2.7v2.7h-2.7zM101.86 6.25h2.7v2.7h-2.7zM105.65 6.25h2.7v2.7h-2.7zM79.65 8.15h2.7v2.7h-2.7zM83.29 8.15h2.7v2.7h-2.7zM86.94 8.15h2.7v2.7h-2.7zM90.58 8.15h2.7v2.7h-2.7zM94.22 8.15h2.7v2.7h-2.7zM97.86 8.15h2.7v2.7h-2.7zM101.51 8.15h2.7v2.7h-2.7zM105.15 8.15h2.7v2.7h-2.7zM211.95 2.55h2.7v2.7h-2.7zM214.45 3.25h2.7v2.7h-2.7zM234.95 2.55h2.7v2.7h-2.7zM237.65 1.95h2.7v2.7h-2.7zM222.05 18.85h2.7v2.7h-2.7zM226.65 18.85h2.7v2.7h-2.7zM224.85 23.45h2.7v2.7h-2.7zM224.85 34.45h2.7v2.7h-2.7zM224.85 38.85h2.7v2.7h-2.7zM224.85 68.45h2.7v2.7h-2.7zM211.15 4.65h2.7v2.7h-2.7zM215.08 4.65h2.7v2.7h-2.7zM219.01 4.65h2.7v2.7h-2.7zM222.94 4.65h2.7v2.7h-2.7zM226.86 4.65h2.7v2.7h-2.7zM230.79 4.65h2.7v2.7h-2.7zM234.72 4.65h2.7v2.7h-2.7zM238.65 4.65h2.7v2.7h-2.7zM210.65 6.85h2.7v2.7h-2.7zM214.21 6.85h2.7v2.7h-2.7zM217.78 6.85h2.7v2.7h-2.7zM221.34 6.85h2.7v2.7h-2.7zM224.9 6.85h2.7v2.7h-2.7zM228.46 6.85h2.7v2.7h-2.7zM232.03 6.85h2.7v2.7h-2.7zM235.59 6.85h2.7v2.7h-2.7zM239.15 6.85h2.7v2.7h-2.7zM211.15 9.25h2.7v2.7h-2.7zM215.08 9.25h2.7v2.7h-2.7zM219.01 9.25h2.7v2.7h-2.7zM222.94 9.25h2.7v2.7h-2.7zM226.86 9.25h2.7v2.7h-2.7zM230.79 9.25h2.7v2.7h-2.7zM234.72 9.25h2.7v2.7h-2.7zM238.65 9.25h2.7v2.7h-2.7zM211.95 11.65h2.7v2.7h-2.7zM215.62 11.65h2.7v2.7h-2.7zM219.29 11.65h2.7v2.7h-2.7zM222.96 11.65h2.7v2.7h-2.7zM226.64 11.65h2.7v2.7h-2.7zM230.31 11.65h2.7v2.7h-2.7zM233.98 11.65h2.7v2.7h-2.7zM237.65 11.65h2.7v2.7h-2.7zM215.65 14.25h2.7v2.7h-2.7zM219.33 14.25h2.7v2.7h-2.7zM223.01 14.25h2.7v2.7h-2.7zM226.69 14.25h2.7v2.7h-2.7zM230.37 14.25h2.7v2.7h-2.7zM234.05 14.25h2.7v2.7h-2.7zM218.35 16.95h2.7v2.7h-2.7zM222.65 16.95h2.7v2.7h-2.7zM226.95 16.95h2.7v2.7h-2.7zM231.25 16.95h2.7v2.7h-2.7zM358.25 2.45h2.7v2.7h-2.7zM362.05 2.45h2.7v2.7h-2.7zM355.85 15.15h2.7v2.7h-2.7zM363.45 14.85h2.7v2.7h-2.7zM359.25 17.55h2.7v2.7h-2.7zM359.25 23.85h2.7v2.7h-2.7zM357.85 27.55h2.7v2.7h-2.7zM362.25 31.45h2.7v2.7h-2.7zM362.05 46.05h2.7v2.7h-2.7zM357.35 48.25h2.7v2.7h-2.7zM362.05 53.15h2.7v2.7h-2.7zM359.55 59.95h2.7v2.7h-2.7zM357.35 64.65h2.7v2.7h-2.7zM362.05 64.65h2.7v2.7h-2.7zM355.65 72.25h2.7v2.7h-2.7zM359.55 73.35h2.7v2.7h-2.7zM363.75 73.35h2.7v2.7h-2.7zM359.55 81.25h2.7v2.7h-2.7zM359.55 87.15h2.7v2.7h-2.7zM345.75 4.45h2.7v2.7h-2.7zM349.86 4.45h2.7v2.7h-2.7zM353.98 4.45h2.7v2.7h-2.7zM358.09 4.45h2.7v2.7h-2.7zM362.21 4.45h2.7v2.7h-2.7zM366.32 4.45h2.7v2.7h-2.7zM370.44 4.45h2.7v2.7h-2.7zM374.55 4.45h2.7v2.7h-2.7zM347.15 6.05h2.7v2.7h-2.7zM350.86 6.05h2.7v2.7h-2.7zM354.58 6.05h2.7v2.7h-2.7zM358.29 6.05h2.7v2.7h-2.7zM362.01 6.05h2.7v2.7h-2.7zM365.72 6.05h2.7v2.7h-2.7zM369.44 6.05h2.7v2.7h-2.7zM373.15 6.05h2.7v2.7h-2.7zM350.95 8.65h2.7v2.7h-2.7zM354.41 8.65h2.7v2.7h-2.7zM357.87 8.65h2.7v2.7h-2.7zM361.33 8.65h2.7v2.7h-2.7zM364.79 8.65h2.7v2.7h-2.7zM368.25 8.65h2.7v2.7h-2.7zM348.15 20.35h2.7v2.7h-2.7zM351.85 20.35h2.7v2.7h-2.7zM355.55 20.35h2.7v2.7h-2.7zM359.25 20.35h2.7v2.7h-2.7zM362.95 20.35h2.7v2.7h-2.7zM366.65 20.35h2.7v2.7h-2.7zM370.35 20.35h2.7v2.7h-2.7zM494.15 0.85h2.7v2.7h-2.7zM497.75 0.85h2.7v2.7h-2.7zM490.45 19.85h2.7v2.7h-2.7zM495.15 20.25h2.7v2.7h-2.7zM492.65 24.25h2.7v2.7h-2.7zM497.45 24.25h2.7v2.7h-2.7zM487.95 27.55h2.7v2.7h-2.7zM491.85 28.55h2.7v2.7h-2.7zM499.75 29.05h2.7v2.7h-2.7zM503.15 27.55h2.7v2.7h-2.7zM490.95 45.55h2.7v2.7h-2.7zM495.85 46.45h2.7v2.7h-2.7zM499.05 46.85h2.7v2.7h-2.7zM490.95 50.95h2.7v2.7h-2.7zM494.95 51.35h2.7v2.7h-2.7zM499.45 50.45h2.7v2.7h-2.7zM494.95 59.05h2.7v2.7h-2.7zM494.95 63.95h2.7v2.7h-2.7zM494.95 70.55h2.7v2.7h-2.7zM490.45 5.45h2.7v2.7h-2.7zM494.12 5.45h2.7v2.7h-2.7zM497.78 5.45h2.7v2.7h-2.7zM501.45 5.45h2.7v2.7h-2.7zM482.15 7.85h2.7v2.7h-2.7zM485.96 7.85h2.7v2.7h-2.7zM489.78 7.85h2.7v2.7h-2.7zM493.59 7.85h2.7v2.7h-2.7zM497.41 7.85h2.7v2.7h-2.7zM501.22 7.85h2.7v2.7h-2.7zM505.04 7.85h2.7v2.7h-2.7zM508.85 7.85h2.7v2.7h-2.7zM487.65 10.45h2.7v2.7h-2.7zM491.55 10.45h2.7v2.7h-2.7zM495.45 10.45h2.7v2.7h-2.7zM499.35 10.45h2.7v2.7h-2.7zM503.25 10.45h2.7v2.7h-2.7zM484.05 13.75h2.7v2.7h-2.7zM487.87 13.75h2.7v2.7h-2.7zM491.68 13.75h2.7v2.7h-2.7zM495.5 13.75h2.7v2.7h-2.7zM499.32 13.75h2.7v2.7h-2.7zM503.13 13.75h2.7v2.7h-2.7zM506.95 13.75h2.7v2.7h-2.7zM487.65 16.15h2.7v2.7h-2.7zM491.32 16.15h2.7v2.7h-2.7zM495 16.15h2.7v2.7h-2.7zM498.67 16.15h2.7v2.7h-2.7zM502.35 16.15h2.7v2.7h-2.7zM487.95 40.55h2.7v2.7h-2.7zM491.38 40.55h2.7v2.7h-2.7zM494.8 40.55h2.7v2.7h-2.7zM498.22 40.55h2.7v2.7h-2.7zM501.65 40.55h2.7v2.7h-2.7zM90.45 129.55h2.7v2.7h-2.7zM93.75 129.55h2.7v2.7h-2.7zM88.65 138.75h2.7v2.7h-2.7zM93.75 138.75h2.7v2.7h-2.7zM87.15 145.25h2.7v2.7h-2.7zM95.95 144.95h2.7v2.7h-2.7zM90.05 147.45h2.7v2.7h-2.7zM79.45 151.15h2.7v2.7h-2.7zM83.15 151.15h2.7v2.7h-2.7zM104.75 150.75h2.7v2.7h-2.7zM92.25 162.95h2.7v2.7h-2.7zM90.35 167.95h2.7v2.7h-2.7zM94.55 167.35h2.7v2.7h-2.7zM90.35 171.95h2.7v2.7h-2.7zM94.25 174.05h2.7v2.7h-2.7zM90.35 180.75h2.7v2.7h-2.7zM94.25 180.75h2.7v2.7h-2.7zM92.65 189.75h2.7v2.7h-2.7zM90.35 198.05h2.7v2.7h-2.7zM94.25 196.65h2.7v2.7h-2.7zM82.75 130.85h2.7v2.7h-2.7zM86.57 130.85h2.7v2.7h-2.7zM90.39 130.85h2.7v2.7h-2.7zM94.21 130.85h2.7v2.7h-2.7zM98.03 130.85h2.7v2.7h-2.7zM101.85 130.85h2.7v2.7h-2.7zM79.05 134.75h2.7v2.7h-2.7zM82.13 134.75h2.7v2.7h-2.7zM85.2 134.75h2.7v2.7h-2.7zM88.28 134.75h2.7v2.7h-2.7zM91.35 134.75h2.7v2.7h-2.7zM94.43 134.75h2.7v2.7h-2.7zM97.5 134.75h2.7v2.7h-2.7zM100.58 134.75h2.7v2.7h-2.7zM103.65 134.75h2.7v2.7h-2.7zM83.45 136.95h2.7v2.7h-2.7zM87.25 136.95h2.7v2.7h-2.7zM91.05 136.95h2.7v2.7h-2.7zM94.85 136.95h2.7v2.7h-2.7zM98.65 136.95h2.7v2.7h-2.7zM84.95 141.35h2.7v2.7h-2.7zM88.25 141.35h2.7v2.7h-2.7zM91.55 141.35h2.7v2.7h-2.7zM94.85 141.35h2.7v2.7h-2.7zM98.15 141.35h2.7v2.7h-2.7zM86.95 153.65h2.7v2.7h-2.7zM90.5 153.65h2.7v2.7h-2.7zM94.05 153.65h2.7v2.7h-2.7zM97.6 153.65h2.7v2.7h-2.7zM101.15 153.65h2.7v2.7h-2.7zM89.35 160.25h2.7v2.7h-2.7zM92.55 160.25h2.7v2.7h-2.7zM95.75 160.25h2.7v2.7h-2.7zM218.65 138.45h2.7v2.7h-2.7zM229.65 138.45h2.7v2.7h-2.7zM223.55 141.85h2.7v2.7h-2.7zM226.95 145.25h2.7v2.7h-2.7zM226.95 147.85h2.7v2.7h-2.7zM223.05 149.95h2.7v2.7h-2.7zM224.45 167.45h2.7v2.7h-2.7zM224.45 197.45h2.7v2.7h-2.7zM211.05 129.65h2.7v2.7h-2.7zM214.36 129.65h2.7v2.7h-2.7zM217.68 129.65h2.7v2.7h-2.7zM220.99 129.65h2.7v2.7h-2.7zM224.3 129.65h2.7v2.7h-2.7zM227.61 129.65h2.7v2.7h-2.7zM230.93 129.65h2.7v2.7h-2.7zM234.24 129.65h2.7v2.7h-2.7zM237.55 129.65h2.7v2.7h-2.7zM210.65 131.85h2.7v2.7h-2.7zM214.15 131.85h2.7v2.7h-2.7zM217.65 131.85h2.7v2.7h-2.7zM221.15 131.85h2.7v2.7h-2.7zM224.65 131.85h2.7v2.7h-2.7zM228.15 131.85h2.7v2.7h-2.7zM231.65 131.85h2.7v2.7h-2.7zM235.15 131.85h2.7v2.7h-2.7zM238.65 131.85h2.7v2.7h-2.7zM211.65 134.25h2.7v2.7h-2.7zM215.36 134.25h2.7v2.7h-2.7zM219.08 134.25h2.7v2.7h-2.7zM222.79 134.25h2.7v2.7h-2.7zM226.51 134.25h2.7v2.7h-2.7zM230.22 134.25h2.7v2.7h-2.7zM233.94 134.25h2.7v2.7h-2.7zM237.65 134.25h2.7v2.7h-2.7zM212.65 136.65h2.7v2.7h-2.7zM216.75 136.65h2.7v2.7h-2.7zM220.85 136.65h2.7v2.7h-2.7zM224.95 136.65h2.7v2.7h-2.7zM229.05 136.65h2.7v2.7h-2.7zM233.15 136.65h2.7v2.7h-2.7zM237.25 136.65h2.7v2.7h-2.7zM349.75 136.15h2.7v2.7h-2.7zM353.85 136.35h2.7v2.7h-2.7zM357.95 138.15h2.7v2.7h-2.7zM361.95 139.15h2.7v2.7h-2.7zM366.05 137.65h2.7v2.7h-2.7zM369.75 135.95h2.7v2.7h-2.7zM359.25 151.35h2.7v2.7h-2.7zM358.35 158.25h2.7v2.7h-2.7zM361.25 160.55h2.7v2.7h-2.7zM359.25 167.65h2.7v2.7h-2.7zM346.05 129.45h2.7v2.7h-2.7zM349.45 129.45h2.7v2.7h-2.7zM352.85 129.45h2.7v2.7h-2.7zM356.25 129.45h2.7v2.7h-2.7zM359.65 129.45h2.7v2.7h-2.7zM363.05 129.45h2.7v2.7h-2.7zM366.45 129.45h2.7v2.7h-2.7zM369.85 129.45h2.7v2.7h-2.7zM373.25 129.45h2.7v2.7h-2.7zM345.65 130.85h2.7v2.7h-2.7zM349.15 130.85h2.7v2.7h-2.7zM352.65 130.85h2.7v2.7h-2.7zM356.15 130.85h2.7v2.7h-2.7zM359.65 130.85h2.7v2.7h-2.7zM363.15 130.85h2.7v2.7h-2.7zM366.65 130.85h2.7v2.7h-2.7zM370.15 130.85h2.7v2.7h-2.7zM373.65 130.85h2.7v2.7h-2.7zM346.65 132.25h2.7v2.7h-2.7zM350.44 132.25h2.7v2.7h-2.7zM354.22 132.25h2.7v2.7h-2.7zM358.01 132.25h2.7v2.7h-2.7zM361.79 132.25h2.7v2.7h-2.7zM365.58 132.25h2.7v2.7h-2.7zM369.36 132.25h2.7v2.7h-2.7zM373.15 132.25h2.7v2.7h-2.7zM348.65 133.45h2.7v2.7h-2.7zM352.4 133.45h2.7v2.7h-2.7zM356.15 133.45h2.7v2.7h-2.7zM359.9 133.45h2.7v2.7h-2.7zM363.65 133.45h2.7v2.7h-2.7zM367.4 133.45h2.7v2.7h-2.7zM371.15 133.45h2.7v2.7h-2.7z" fill="none" stroke="#2a2a2a" stroke-width="0.75"/>
<path d="M36.05 15.3H64.65M40.85 12H59.85M40.85 18.9H59.85M50.35 12V18.9M80 11.8H107.6M86.8 5.6H100.8M86.8 43.1H100.8M93.8 5.6V43.1M168.6 20.6H196.8M175.9 13.3H189.5M175.9 24H189.5M182.7 13.3V24M211.5 8H241.1M219.3 6H233.3M219.3 11.5H233.3M226.3 6V11.5M303.35 20.6H332.35M310.85 15.2H324.85M310.85 23H324.85M317.85 15.2V23M346.75 12.5H375.95M354.35 6.5H368.35M354.05 36.5H368.65M361.35 6.5V36.5M35.85 149.2H64.45M40.65 145.7H59.65M50.15 145.7V149.2M79.35 144.7H108.75M87.05 136H101.05M87.05 160.3H101.05M94.05 131.5V160.3M167.6 143.6H197.4M175.5 141.3H189.5M175.5 146.5H189.5M182.5 141.3V146.5M211.5 134.6H240.9M219.2 132H233.2M219.2 137.5H233.2M226.2 132V137.5M303.1 151.4H332.5M311.4 147.5H324.2M311.4 155.6H324.2M317.8 147.5V155.6M346.5 133.3H376.1M354.3 131.3H368.3M354.3 135.6H368.3M361.3 131.3V135.6" fill="none" stroke="#111" stroke-width="1.1"/>
<path d="M438.8 14.3H468.4M447.6 8.6H459.6M447.6 19H459.6M453.6 8.6V19M482.7 20.8H511.7M490.2 11.4H504.2M490.7 42.6H503.7M497.2 11.4V42.6" fill="none" stroke="#333" stroke-width="0.85"/>
</svg>
</body></html>
